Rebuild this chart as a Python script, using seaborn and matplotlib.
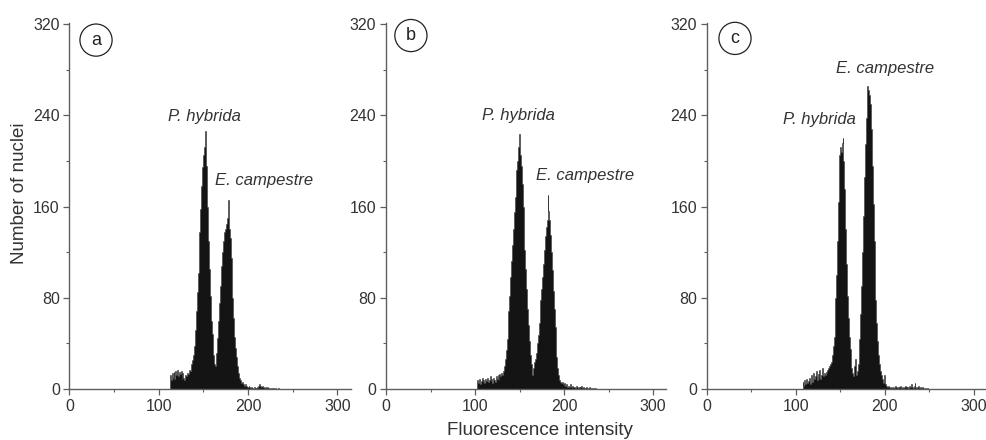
import numpy as np
import pandas as pd
import matplotlib
matplotlib.use("Agg")
import matplotlib.pyplot as plt
import seaborn as sns
from matplotlib.ticker import MultipleLocator

# ---------------- data (counts per fluorescence channel) ----------------
start_a = 110
counts_a = [0, 0, 0,
            12, 8, 14, 10, 15, 9, 16, 12, 17, 11, 15, 13, 16, 9, 14, 10, 8, 12, 11, 14, 13, 17, 16,
            18, 22, 25, 30, 38, 52, 68, 85, 102, 120, 138, 158, 178, 195, 205, 212, 226,
            196, 178, 160, 130, 105, 82, 60, 48, 30, 22,
            20, 24, 32, 45, 60, 75, 90, 108, 120, 130, 136, 138, 140, 145, 150, 166, 140, 132, 115, 98,
            80, 62, 46, 36, 28, 20, 14, 10, 8, 6,
            5, 6, 4, 3, 4, 3, 2, 2, 3, 2, 1, 2, 1, 0, 2, 1, 1, 2, 1, 3, 4, 3, 2, 3, 2, 1, 2, 1, 1, 2,
            1, 1, 0, 1, 1, 0, 1, 0, 1, 0, 0, 1, 0, 0, 0, 0, 0, 0]

start_b = 103
counts_b = [8, 5, 9, 4, 7, 10, 6, 8, 5, 9, 7, 10, 6, 8, 11, 7, 9, 5, 10, 8, 6, 11, 9, 12, 8, 13, 11, 14, 12, 16,
            20, 26, 34, 44, 55, 68, 82, 98, 112, 126, 140, 155, 168, 180, 192, 200, 212, 224,
            205, 196, 180, 160, 142, 122, 105, 88, 70, 56, 42, 30, 22, 16, 12,
            18, 24, 26, 32, 40, 47, 58, 68, 78, 88, 98, 110, 122, 134, 142, 148, 170, 156, 148, 135,
            120, 104, 86, 70, 54, 40, 28, 18, 12, 8, 6,
            5, 6, 4, 3, 5, 3, 4, 2, 3, 2, 4, 2, 1, 3, 2, 2, 1, 3, 2, 1, 2, 1, 2, 3, 1, 2, 1, 1, 2, 1,
            0, 1, 2, 1, 0, 1, 1, 0, 1, 0, 0, 0, 0, 0]

start_c = 108
counts_c = [6, 3, 8, 4, 9, 5, 7, 10, 4, 8, 12, 6, 14, 9, 11, 16, 8, 13, 10, 17, 9, 12, 18, 11, 14, 12, 15, 14, 17,
            18, 20, 22, 24, 30, 38, 46, 62, 80, 100, 130, 164, 205, 212, 208, 216, 220,
            200, 175, 140, 110, 82, 62, 46, 35, 26, 18, 14, 11, 20, 26, 12, 16, 22, 32, 44,
            66, 90, 120, 152, 186, 215, 238, 255, 266, 262, 258, 250, 228, 196, 162, 130, 102, 78,
            58, 42, 30, 22, 16, 12, 9, 7, 5,
            12, 4, 3, 2, 3, 2, 1, 2, 2, 1, 2, 1, 3, 2, 1, 2, 1, 2, 3, 1, 2, 1, 2, 3, 2, 1, 2, 1, 3, 2,
            4, 2, 1, 3, 5, 2, 1, 2, 3, 1, 2, 1, 2, 1, 1, 0, 1, 0, 1, 0, 0]

panel_letters = ["a", "b", "c"]
species = ["P. hybrida", "E. campestre"]
# label anchor positions (data coords) for each panel: (P. hybrida), (E. campestre)
label_pos = [((150.6, 238.6), (218.4, 183.3)),
             ((149.2, 239.5), (223.6, 187.0)),
             ((126.5, 236.0), (200.0, 281.0))]
letter_pos = [(29.7, 306), (28.0, 310), (31.5, 307.5)]

x_ticks = [0, 100, 200, 300]
y_ticks = [0, 80, 160, 240, 320]
x_label = "Fluorescence intensity"
y_label = "Number of nuclei"

# ---------------- style ----------------
sns.set_style("ticks")
plt.rcParams['font.family'] = ['Liberation Sans', 'DejaVu Sans']

W, H = 987, 440
fig = plt.figure(figsize=(W / 100, H / 100), dpi=100)

axes_px = [(69.5, 281.3), (386.0, 280.4), (707.0, 280.0)]
bottom_px = 51.0
height_px = 366.0

starts = [start_a, start_b, start_c]
counts_all = [counts_a, counts_b, counts_c]
spine_col = "#5e5e5e"
text_col = "#333333"

for i in range(3):
    left, width = axes_px[i]
    ax = fig.add_axes([left / W, bottom_px / H, width / W, height_px / H])
    cnt = counts_all[i]
    df = pd.DataFrame({"channel": np.arange(starts[i], starts[i] + len(cnt)),
                       "count": cnt})
    sns.histplot(data=df, x="channel", weights="count", discrete=True,
                 element="step", fill=True, color="#141414", alpha=1.0,
                 linewidth=0.4, edgecolor="#3a3a3a", ax=ax)
    ax.set_xlim(0, 315)
    ax.set_ylim(0, 321)
    ax.set_xticks(x_ticks)
    ax.set_yticks(y_ticks)
    ax.xaxis.set_minor_locator(MultipleLocator(50))
    ax.yaxis.set_minor_locator(MultipleLocator(40))
    ax.set_xlabel("")
    ax.set_ylabel("")
    for s in ["top", "right"]:
        ax.spines[s].set_visible(False)
    for s in ["left", "bottom"]:
        ax.spines[s].set_color(spine_col)
        ax.spines[s].set_linewidth(1.0)
    ax.tick_params(which="major", direction="out", length=4, width=0.9,
                   color=spine_col, labelsize=11.5, labelcolor=text_col, pad=3)
    ax.tick_params(which="minor", direction="out", length=2.5, width=0.8,
                   color=spine_col)
    ax.set_facecolor("white")

    (px, py), (ex, ey) = label_pos[i]
    ax.text(px, py, species[0], style="italic", fontsize=12, color=text_col,
            ha="center", va="center")
    ax.text(ex, ey, species[1], style="italic", fontsize=12, color=text_col,
            ha="center", va="center")
    lx, ly = letter_pos[i]
    ax.text(lx, ly, panel_letters[i], fontsize=13, color="#222222",
            ha="center", va="center",
            bbox=dict(boxstyle="circle,pad=0.42", fc="white", ec="#222222", lw=0.9))

fig.text(20 / W, 1 - 193.5 / H, y_label, rotation=90, fontsize=13.5,
         color=text_col, ha="center", va="center")
fig.text(540 / W, 10 / H, x_label, fontsize=13.5, color=text_col,
         ha="center", va="center")

fig.savefig("out.png", dpi=100, facecolor="white")
